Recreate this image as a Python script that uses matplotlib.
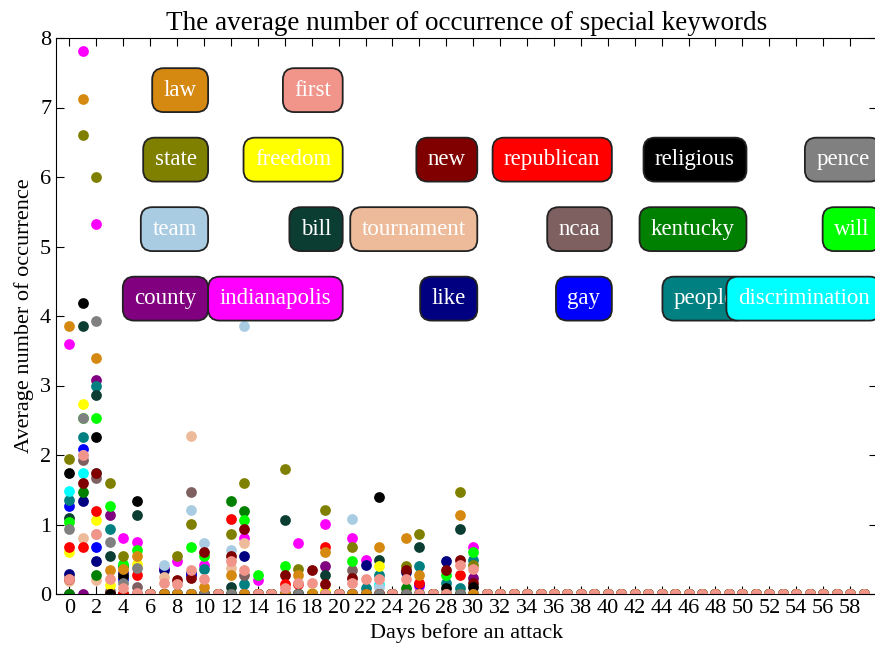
import matplotlib
matplotlib.use("Agg")
import matplotlib.pyplot as plt

plt.rcParams['font.family'] = ['Liberation Serif', 'DejaVu Serif']

# days before an attack; values read for days 0..30, days 31..59 are all zero
days = list(range(60))
tail = [0.0] * 29

keywords = ['county', 'indianapolis', 'like', 'gay', 'people', 'discrimination',
            'team', 'bill', 'tournament', 'ncaa', 'kentucky', 'will',
            'state', 'freedom', 'new', 'republican', 'religious', 'pence',
            'law', 'first']
colors = ['#800080', '#FF00FF', '#000080', '#0000FF', '#008080', '#00FFFF',
          '#A9CCE3', '#0B3D33', '#EDBB99', '#7F6060', '#008000', '#00FF00',
          '#808000', '#FFFF00', '#800000', '#FF0000', '#000000', '#808080',
          '#D68910', '#F1948A']

#            0     1     2     3     4     5     6     7     8     9    10    11    12    13    14    15    16    17    18    19    20    21    22    23    24    25    26    27    28    29    30
county =   [0.0,  0.0,  3.08, 1.14, 0.0,  0.0,  0.0,  0.0,  0.0,  0.0,  0.0,  0.0,  0.0,  0.0,  0.0,  0.0,  0.0,  0.0,  0.0,  0.40, 0.0,  0.0,  0.0,  0.0,  0.0,  0.0,  0.0,  0.0,  0.0,  0.0,  0.23]
indianap = [3.60, 7.82, 5.33, 0.0,  0.81, 0.75, 0.0,  0.38, 0.47, 0.0,  0.42, 0.0,  0.0,  0.81, 0.20, 0.0,  0.0,  0.74, 0.0,  1.01, 0.0,  0.80, 0.49, 0.0,  0.0,  0.0,  0.12, 0.0,  0.0,  0.0,  0.68]
like =     [0.29, 1.34, 0.47, 0.0,  0.30, 0.0,  0.0,  0.35, 0.0,  0.30, 0.0,  0.0,  0.0,  0.54, 0.0,  0.0,  0.0,  0.0,  0.0,  0.0,  0.0,  0.0,  0.42, 0.0,  0.0,  0.32, 0.0,  0.0,  0.48, 0.0,  0.0]
gay =      [1.27, 2.08, 0.68, 0.0,  0.22, 0.0,  0.0,  0.0,  0.0,  0.28, 0.0,  0.0,  0.0,  0.0,  0.0,  0.0,  0.0,  0.0,  0.0,  0.0,  0.0,  0.0,  0.0,  0.0,  0.0,  0.0,  0.14, 0.0,  0.0,  0.0,  0.0]
people =   [1.35, 2.26, 3.00, 0.93, 0.0,  0.0,  0.0,  0.0,  0.0,  0.0,  0.36, 0.0,  0.0,  0.15, 0.0,  0.0,  0.0,  0.0,  0.0,  0.0,  0.0,  0.0,  0.09, 0.28, 0.0,  0.0,  0.40, 0.0,  0.16, 0.09, 0.49]
discrim =  [1.48, 1.74, 1.74, 0.0,  0.0,  0.0,  0.0,  0.0,  0.0,  0.0,  0.0,  0.0,  0.0,  0.0,  0.0,  0.0,  0.0,  0.0,  0.0,  0.0,  0.0,  0.0,  0.0,  0.14, 0.0,  0.0,  0.0,  0.0,  0.0,  0.0,  0.0]
team =     [0.0,  2.00, 0.87, 0.0,  0.0,  0.0,  0.0,  0.42, 0.0,  1.21, 0.74, 0.0,  0.63, 3.86, 0.0,  0.0,  0.0,  0.0,  0.0,  0.0,  0.0,  1.08, 0.0,  0.10, 0.0,  0.0,  0.0,  0.0,  0.0,  0.0,  0.0]
bill =     [1.09, 3.86, 2.86, 0.55, 0.0,  1.14, 0.0,  0.0,  0.0,  0.0,  0.0,  0.0,  0.10, 0.0,  0.0,  0.0,  1.07, 0.0,  0.0,  0.27, 0.0,  0.0,  0.0,  0.49, 0.0,  0.0,  0.68, 0.0,  0.0,  0.94, 0.0]
tourn =    [0.19, 0.81, 0.20, 0.0,  0.0,  0.0,  0.0,  0.25, 0.0,  2.27, 0.0,  0.0,  0.37, 0.74, 0.0,  0.0,  0.0,  0.0,  0.0,  0.0,  0.0,  0.0,  0.0,  0.0,  0.0,  0.0,  0.0,  0.0,  0.0,  0.0,  0.0]
ncaa =     [0.0,  1.93, 1.67, 0.05, 0.0,  0.10, 0.0,  0.0,  0.0,  1.47, 0.0,  0.0,  0.0,  0.27, 0.0,  0.0,  0.0,  0.0,  0.0,  0.0,  0.0,  0.35, 0.0,  0.0,  0.0,  0.0,  0.0,  0.0,  0.0,  0.0,  0.0]
kentucky = [0.0,  1.47, 0.27, 0.0,  0.40, 0.0,  0.0,  0.0,  0.0,  0.0,  0.0,  0.0,  1.34, 1.20, 0.0,  0.0,  0.0,  0.0,  0.0,  0.0,  0.0,  0.0,  0.0,  0.0,  0.0,  0.09, 0.0,  0.0,  0.0,  0.0,  0.0]
will =     [1.03, 2.53, 2.53, 1.27, 0.43, 0.63, 0.0,  0.0,  0.0,  0.68, 0.54, 0.0,  0.0,  1.06, 0.27, 0.0,  0.41, 0.0,  0.0,  0.0,  0.0,  0.48, 0.0,  0.0,  0.0,  0.0,  0.0,  0.0,  0.27, 0.0,  0.61]
state =    [1.94, 6.60, 6.00, 1.60, 0.54, 0.0,  0.0,  0.0,  0.55, 1.01, 0.0,  0.0,  0.87, 1.60, 0.0,  0.0,  1.80, 0.36, 0.0,  1.21, 0.0,  0.68, 0.0,  0.0,  0.0,  0.40, 0.87, 0.0,  0.0,  1.47, 0.42]
freedom =  [0.61, 2.73, 1.06, 0.13, 0.0,  0.43, 0.0,  0.0,  0.0,  0.0,  0.0,  0.0,  0.0,  0.0,  0.0,  0.0,  0.0,  0.0,  0.02, 0.05, 0.0,  0.0,  0.0,  0.40, 0.0,  0.0,  0.0,  0.0,  0.0,  0.0,  0.0]
new =      [0.21, 1.60, 1.74, 0.0,  0.0,  0.0,  0.0,  0.0,  0.20, 0.23, 0.61, 0.0,  0.55, 0.93, 0.0,  0.0,  0.27, 0.0,  0.35, 0.14, 0.0,  0.23, 0.0,  0.0,  0.0,  0.35, 0.0,  0.0,  0.35, 0.49, 0.16]
republ =   [0.68, 0.68, 1.20, 0.0,  0.0,  0.27, 0.0,  0.0,  0.0,  0.0,  0.0,  0.0,  1.08, 0.0,  0.0,  0.0,  0.14, 0.14, 0.0,  0.68, 0.0,  0.0,  0.0,  0.0,  0.0,  0.0,  0.16, 0.0,  0.0,  0.27, 0.0]
religious = [1.74, 4.19, 2.26, 0.0,  0.26, 1.34, 0.0,  0.0,  0.0,  0.0,  0.0,  0.0,  0.0,  0.0,  0.0,  0.0,  0.0,  0.0,  0.0,  0.0,  0.0,  0.0,  0.0,  1.40, 0.0,  0.0,  0.0,  0.0,  0.09, 0.0,  0.10]
pence =    [0.94, 2.53, 3.93, 0.75, 0.16, 0.37, 0.0,  0.0,  0.0,  0.0,  0.0,  0.0,  0.0,  0.0,  0.0,  0.0,  0.0,  0.0,  0.0,  0.0,  0.0,  0.0,  0.0,  0.0,  0.0,  0.0,  0.0,  0.0,  0.0,  0.0,  0.0]
law =      [3.86, 7.12, 3.39, 0.35, 0.36, 0.54, 0.0,  0.0,  0.0,  0.0,  0.10, 0.0,  0.27, 0.0,  0.0,  0.0,  0.0,  0.27, 0.0,  0.61, 0.0,  0.0,  0.0,  0.68, 0.0,  0.80, 0.27, 0.0,  0.0,  1.14, 0.0]
first =    [0.21, 2.00, 0.87, 0.21, 0.09, 0.02, 0.0,  0.16, 0.15, 0.35, 0.21, 0.0,  0.47, 0.35, 0.0,  0.0,  0.09, 0.16, 0.16, 0.0,  0.0,  0.16, 0.21, 0.21, 0.0,  0.21, 0.0,  0.0,  0.0,  0.42, 0.36]

series = [county, indianap, like, gay, people, discrim, team, bill, tourn, ncaa,
          kentucky, will, state, freedom, new, republ, religious, pence, law, first]

fig = plt.figure(figsize=(8.75, 6.53), dpi=100)
ax = fig.add_axes([56 / 875, 59 / 653, 821 / 875, 556 / 653])

for i, (name, vals) in enumerate(zip(keywords, series)):
    ax.scatter(days, vals + tail, s=60, color=colors[i], linewidths=0, zorder=2)
    # keyword label boxes, 6 per row, rows going up
    col = i % 6
    row = i // 6
    ax.text(10 * (col + 1) - 0.55, 4.25 + row, name, ha='right', va='center',
            color='white', fontsize=16.5, zorder=3,
            bbox=dict(boxstyle='round,pad=0.5', facecolor=colors[i],
                      edgecolor='#222222', linewidth=1.3))

ax.set_xlim(-1, 60)
ax.set_ylim(0, 8)
ax.set_xticks(range(0, 60, 2))
ax.set_yticks(range(0, 9))
ax.tick_params(direction='in', top=True, right=True, length=6, labelsize=16)
ax.set_title('The average number of occurrence of special keywords', fontsize=19.5)
ax.set_xlabel('Days before an attack', fontsize=16)
ax.set_ylabel('Average number of occurrence', fontsize=16)

fig.savefig('out.png', dpi=100)
